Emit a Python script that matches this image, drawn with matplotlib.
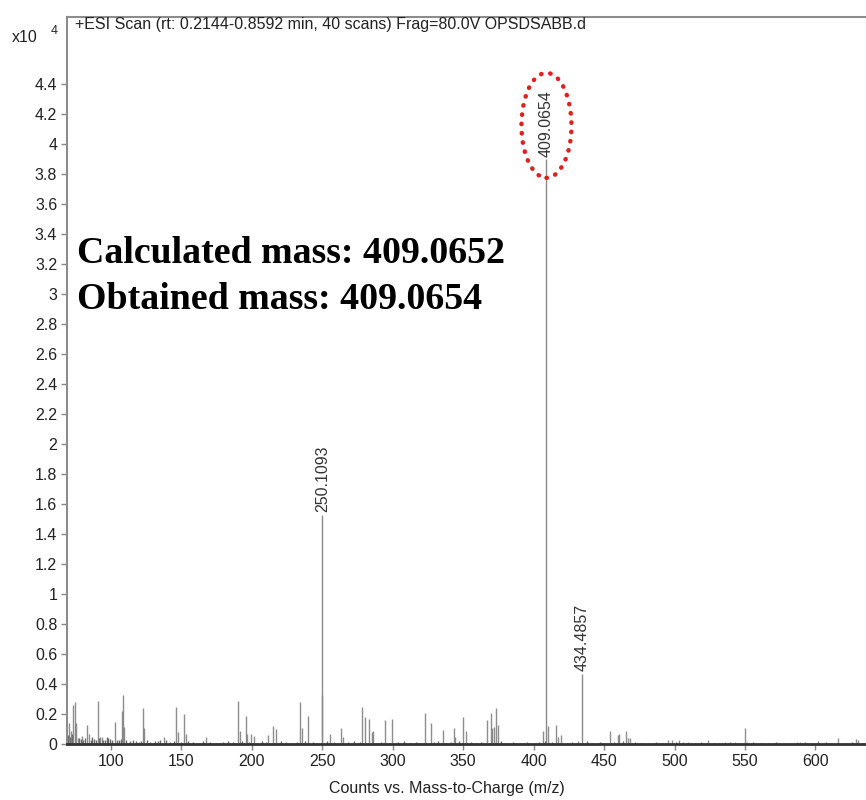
import numpy as np
import matplotlib.pyplot as plt
from matplotlib.patches import Ellipse

# ---------------------------------------------
# Mass spectrum data (intensity in units of 1e4)
# ---------------------------------------------
# labelled peaks
main_mz = [250.1093, 409.0654, 434.4857]
main_int = [1.53, 3.90, 0.47]

# smaller fragment / background peaks
minor_mz = [70.4, 71.6, 73.2, 74.4, 75.2, 76.8, 79.6, 83.2, 84.4, 90.6,
            92.2, 93.4, 102.8, 108.0, 108.7, 109.4, 122.9, 123.4, 137.6, 146.3,
            147.3, 151.6, 153.0, 167.2, 190.3, 191.6, 195.6, 196.7, 199.1, 201.5,
            211.2, 214.8, 217.1, 234.4, 235.6, 239.6, 249.9, 255.6, 263.0, 264.9,
            278.4, 280.3, 283.1, 285.0, 285.7, 294.3, 299.4, 322.6, 326.9, 335.4,
            343.4, 344.4, 350.0, 351.7, 366.6, 369.5, 370.6, 371.8, 373.2, 374.4,
            406.8, 410.4, 415.6, 417.0, 419.4, 431.7, 454.2, 459.6, 460.5, 465.5,
            467.1, 468.3, 495.5, 497.9, 503.3, 506.2, 509.7, 523.9, 535.8, 542.9,
            550.0, 551.2, 586.7, 589.0, 601.6, 615.8, 628.5, 630.4]
minor_int = [0.14, 0.09, 0.26, 0.28, 0.14, 0.04, 0.055, 0.13, 0.07, 0.29,
             0.05, 0.05, 0.15, 0.22, 0.33, 0.115, 0.24, 0.11, 0.045, 0.25,
             0.08, 0.20, 0.065, 0.05, 0.29, 0.09, 0.19, 0.065, 0.065, 0.055,
             0.06, 0.12, 0.10, 0.28, 0.11, 0.19, 0.33, 0.07, 0.11, 0.05,
             0.25, 0.18, 0.165, 0.08, 0.085, 0.16, 0.165, 0.21, 0.14, 0.095,
             0.11, 0.05, 0.18, 0.09, 0.16, 0.21, 0.11, 0.115, 0.24, 0.13,
             0.09, 0.12, 0.13, 0.05, 0.06, 0.02, 0.085, 0.06, 0.07, 0.09,
             0.04, 0.04, 0.03, 0.025, 0.025, 0.015, 0.015, 0.03, 0.012, 0.012,
             0.11, 0.012, 0.015, 0.015, 0.02, 0.04, 0.035, 0.025]

# baseline noise
noise_mz = [69.5, 70.8, 72.0, 77.5, 78.8, 80.5, 81.6, 85.5, 86.7, 88.1,
            89.3, 91.5, 94.6, 95.8, 96.9, 98.2, 99.6, 101.0, 104.1, 105.5,
            106.8, 111.0, 113.2, 115.6, 117.9, 119.8, 121.5, 125.4, 128.0, 131.3,
            133.6, 135.1, 139.2, 141.7, 144.5, 149.6, 155.0, 158.3, 162.1, 165.4,
            170.2, 174.8, 179.3, 183.1, 186.6, 193.2, 198.0, 203.4, 206.9, 209.8,
            220.6, 224.1, 228.5, 232.0, 237.8, 243.2, 246.5, 253.1, 258.4, 261.0,
            268.3, 272.6, 276.9, 288.1, 291.4, 297.2, 303.5, 307.9, 312.4, 316.8,
            320.1, 329.5, 332.2, 338.7, 341.0, 347.3, 355.8, 359.4, 362.7, 376.5,
            380.2, 385.6, 390.1, 395.3, 400.7, 403.8, 408.2, 412.9, 423.5, 427.1,
            437.8, 442.3, 446.9, 450.5, 457.3, 463.1, 471.8, 476.4, 481.0, 486.6,
            491.2, 500.8, 514.3, 518.7, 528.2, 531.6, 539.4, 546.1, 555.9, 561.3,
            566.8, 572.0, 577.4, 581.9, 592.7, 596.5, 607.3, 611.0, 621.2, 625.6,
            634.0]
noise_int = [0.06, 0.05, 0.07, 0.04, 0.035, 0.03, 0.04, 0.03, 0.05, 0.035,
             0.03, 0.04, 0.025, 0.03, 0.045, 0.04, 0.035, 0.03, 0.025, 0.03,
             0.035, 0.025, 0.02, 0.025, 0.02, 0.015, 0.02, 0.025, 0.015, 0.02,
             0.02, 0.03, 0.025, 0.015, 0.02, 0.015, 0.02, 0.015, 0.01, 0.02,
             0.015, 0.01, 0.015, 0.02, 0.015, 0.02, 0.015, 0.01, 0.02, 0.015,
             0.02, 0.015, 0.01, 0.015, 0.02, 0.015, 0.01, 0.02, 0.015, 0.01,
             0.015, 0.02, 0.015, 0.01, 0.015, 0.01, 0.015, 0.02, 0.01, 0.015,
             0.01, 0.015, 0.02, 0.01, 0.015, 0.02, 0.015, 0.01, 0.015, 0.02,
             0.01, 0.015, 0.01, 0.015, 0.01, 0.015, 0.02, 0.015, 0.01, 0.015,
             0.02, 0.01, 0.015, 0.01, 0.015, 0.02, 0.015, 0.01, 0.01, 0.015,
             0.01, 0.015, 0.01, 0.015, 0.01, 0.01, 0.015, 0.01, 0.015, 0.01,
             0.01, 0.015, 0.01, 0.01, 0.015, 0.01, 0.015, 0.01, 0.01, 0.015,
             0.01]

x_ticks = [100, 150, 200, 250, 300, 350, 400, 450, 500, 550, 600]
y_ticks = [0, 0.2, 0.4, 0.6, 0.8, 1, 1.2, 1.4, 1.6, 1.8, 2, 2.2, 2.4, 2.6,
           2.8, 3, 3.2, 3.4, 3.6, 3.8, 4, 4.2, 4.4]

calc_mass = "409.0652"
found_mass = "409.0654"

# -----------------------
# Figure
# -----------------------
plt.rcParams['font.family'] = ['Liberation Sans', 'DejaVu Sans']
fs = 11.5

fig = plt.figure(figsize=(8.66, 8), dpi=100)
ax = fig.add_axes([67/866, 56/800, 805/866, 727/800])

ax.vlines(noise_mz, 0, noise_int, color='#444444', lw=1.0, alpha=0.8)
ax.vlines(minor_mz, 0, minor_int, color='#7a7a7a', lw=1.0, alpha=0.85)
ax.vlines(main_mz, 0, main_int, color='#8a8a8a', lw=1.0)

for mz, h in zip(main_mz, main_int):
    ax.annotate(f'{mz:.4f}', xy=(mz, h), xytext=(0, 2), textcoords='offset points',
                rotation=90, ha='center', va='bottom', fontsize=fs, color='#333333')

# highlight of the molecular ion peak
ell = Ellipse((409.0654, 4.127), width=35.5, height=0.70, fill=False,
              edgecolor='#e0201c', lw=3.2, linestyle=(0, (0.1, 2.0)),
              capstyle='round', zorder=5)
ax.add_patch(ell)

ax.set_xlim(68.8, 640.1)
ax.set_ylim(0, 4.85)
ax.set_xticks(x_ticks)
ax.set_yticks(y_ticks)
ax.set_yticklabels([f'{v:g}' for v in y_ticks])
ax.tick_params(axis='both', direction='out', length=4, width=1, color='#888888',
               labelsize=fs, labelcolor='#222222', pad=3)

for side in ['left', 'top', 'right']:
    ax.spines[side].set_color('#8c8c8c')
    ax.spines[side].set_linewidth(1.5)
ax.spines['bottom'].set_color('#333333')
ax.spines['bottom'].set_linewidth(2.0)

ax.set_xlabel('Counts vs. Mass-to-Charge (m/z)', fontsize=fs, color='#222222')
ax.xaxis.set_label_coords((447 - 67) / 805, -37 / 727)

# header texts
fig.text(75/866, 1 - 25/800, '+ESI Scan (rt: 0.2144-0.8592 min, 40 scans) Frag=80.0V OPSDSABB.d',
         fontsize=fs, color='#222222', va='center', ha='left')
fig.text(12/866, 1 - 38/800, 'x10', fontsize=fs, color='#222222', va='center', ha='left')
fig.text(51/866, 1 - 31/800, '4', fontsize=9, color='#222222', va='center', ha='left')

# mass annotation
fig.text(77/866, 1 - 263/800, f'Calculated mass: {calc_mass}', fontsize=27.3,
         fontweight='bold', family='Liberation Serif', color='black', va='baseline')
fig.text(77/866, 1 - 309/800, f'Obtained mass: {found_mass}', fontsize=27.3,
         fontweight='bold', family='Liberation Serif', color='black', va='baseline')

fig.savefig('out.png', dpi=100)
